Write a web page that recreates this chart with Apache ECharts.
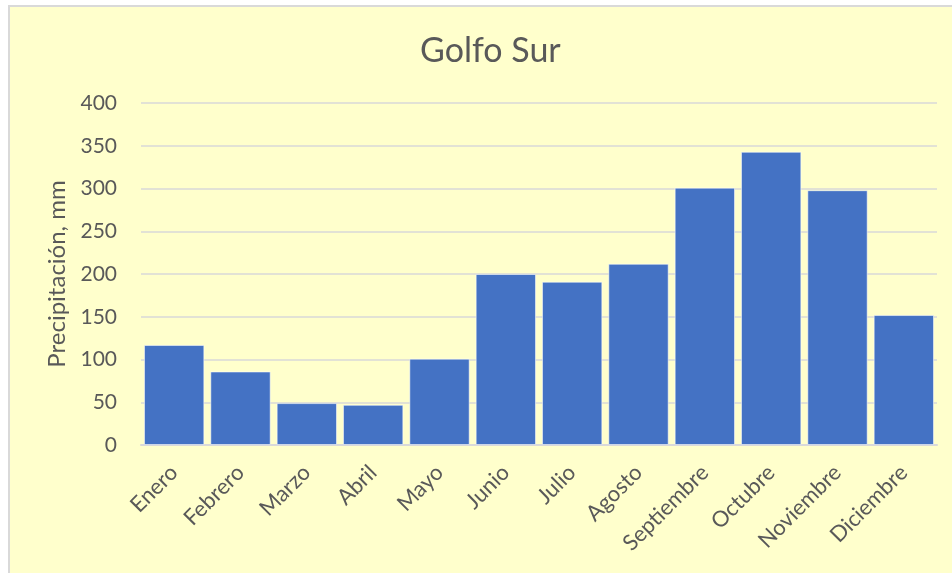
<!DOCTYPE html>
<html>
<head>
<meta charset="utf-8">
<title>Golfo Sur</title>
<script src="https://cdn.jsdelivr.net/npm/echarts@6/dist/echarts.min.js"></script>
<style>
  html, body { margin: 0; padding: 0; background: #ffffff; }
  #chart { width: 952px; height: 573px; }
</style>
</head>
<body>
<div id="chart"></div>
<script>
// Monthly precipitation, Golfo Sur
const months = ['Enero', 'Febrero', 'Marzo', 'Abril', 'Mayo', 'Junio',
                'Julio', 'Agosto', 'Septiembre', 'Octubre', 'Noviembre', 'Diciembre'];
const precipitation = [117, 86, 49, 47, 101, 200, 191, 212, 301, 343, 298, 152];
const yTicks = [0, 50, 100, 150, 200, 250, 300, 350, 400];

const chart = echarts.init(document.getElementById('chart'), null, { renderer: 'canvas' });

const textColor = '#595959';
const fontFamily = 'Lato, "Open Sans", sans-serif';

chart.setOption({
  backgroundColor: 'transparent',
  animation: false,
  graphic: [{
    type: 'rect',
    left: 8,
    top: 5,
    z: -10,
    shape: { width: 960, height: 590 },
    style: { fill: '#FFFFCC', stroke: '#D9D9D9', lineWidth: 2 }
  }],
  title: {
    text: 'Golfo Sur',
    left: 415,
    top: 29,
    textStyle: { color: textColor, fontFamily: fontFamily, fontSize: 34, fontWeight: 'normal' }
  },
  grid: { left: 141, right: 15, top: 103, bottom: 128, containLabel: false },
  xAxis: {
    type: 'category',
    data: months,
    axisLine: { show: true, lineStyle: { color: '#D9D9D9', width: 2 } },
    axisTick: { show: false },
    axisLabel: {
      rotate: 45,
      margin: 24,
      color: textColor,
      fontFamily: fontFamily,
      fontSize: 22
    }
  },
  yAxis: {
    type: 'value',
    min: yTicks[0],
    max: yTicks[yTicks.length - 1],
    interval: yTicks[1] - yTicks[0],
    name: 'Precipitación, mm',
    nameLocation: 'middle',
    nameGap: 70,
    nameRotate: 90,
    nameTextStyle: { color: textColor, fontFamily: fontFamily, fontSize: 24 },
    axisLine: { show: false },
    axisTick: { show: false },
    axisLabel: { color: textColor, fontFamily: fontFamily, fontSize: 21, margin: 24 },
    splitLine: { lineStyle: { color: '#D9D9D9', width: 1.5 } }
  },
  series: [{
    type: 'bar',
    data: precipitation,
    barCategoryGap: '9%',
    itemStyle: { color: '#4472C4', borderColor: 'rgba(255,255,255,0.55)', borderWidth: 1 }
  }]
});
</script>
</body>
</html>
